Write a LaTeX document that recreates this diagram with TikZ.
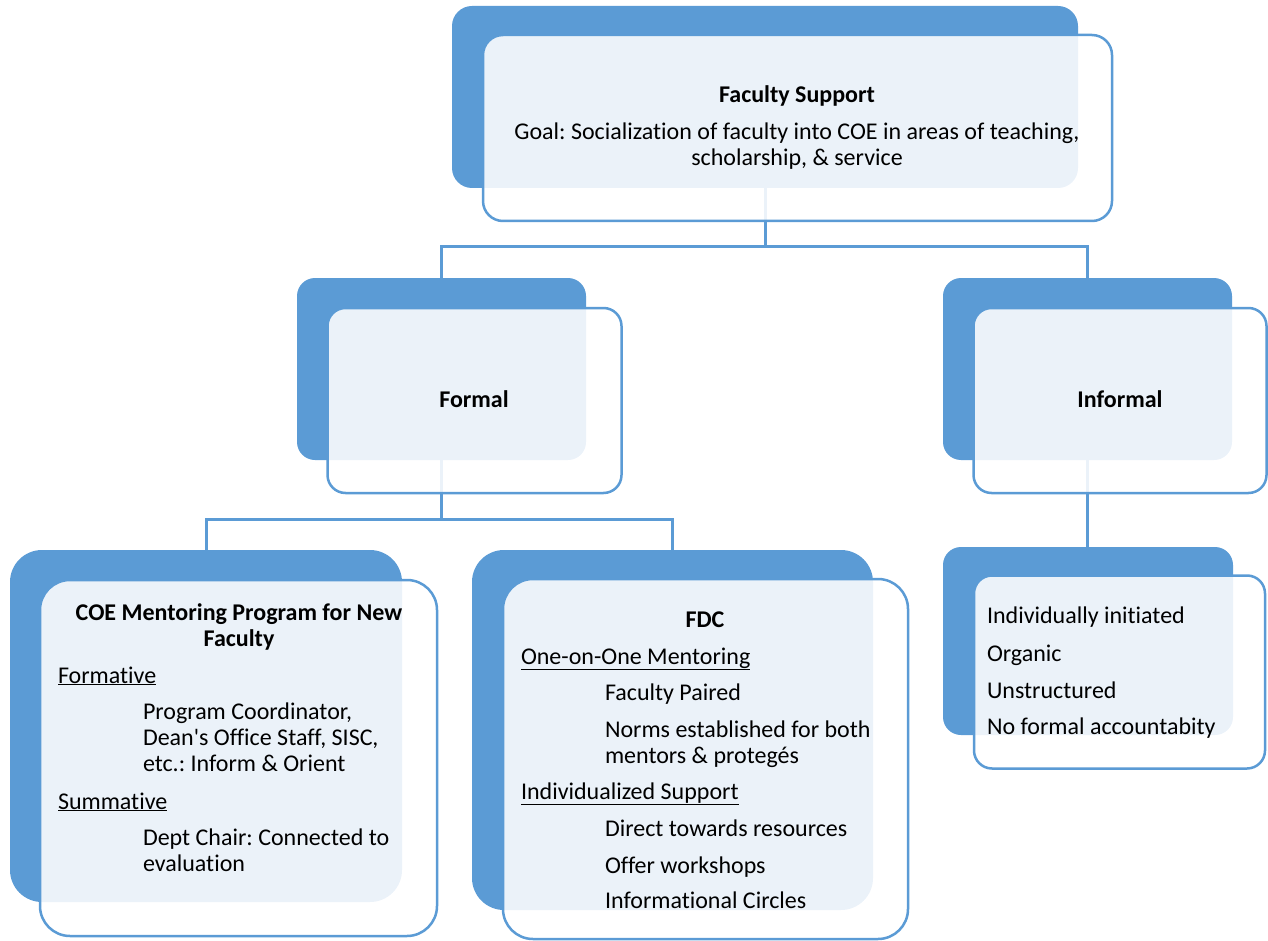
\documentclass[tikz,border=0pt]{standalone}
\usepackage{fontspec}
\setmainfont{Carlito}[Ligatures={TeX,NoCommon}]
\usetikzlibrary{calc}
\definecolor{accent}{HTML}{5B9BD5}
\pgfdeclarelayer{bg}
\pgfsetlayers{bg,main}
\frenchspacing
\begin{document}
\begin{tikzpicture}[x=1pt,y=-1pt,
  backbox/.style={fill=accent, inner sep=0pt, outer sep=0pt},
  frontbox/.style={draw=accent, line width=2.5pt, fill=white, fill opacity=0.88, inner sep=0pt, outer sep=0pt},
  conn/.style={draw=accent, line width=3pt},
  txt/.style={inner sep=0pt, outer sep=0pt, font=\fontsize{24}{26}\selectfont},
  lt/.style={txt, anchor=base west},
  ct/.style={txt, anchor=base},
  hd/.style={txt, anchor=base, font=\fontsize{24}{26}\selectfont\bfseries}
]
\useasboundingbox (0,0) rectangle (1268,941);

% back boxes
\node[backbox, rounded corners=20pt, minimum width=626pt, minimum height=182pt] (topb) at (765,97) {};
\node[backbox, rounded corners=18pt, minimum width=289pt, minimum height=182pt] (formalb) at (441.5,369) {};
\node[backbox, rounded corners=18pt, minimum width=289pt, minimum height=182pt] (informalb) at (1087.5,369) {};
\node[backbox, rounded corners=32pt, minimum width=392pt, minimum height=352pt] (coeb) at (206,726) {};
\node[backbox, rounded corners=32pt, minimum width=401pt, minimum height=360pt] (fdcb) at (672.5,730) {};
\node[backbox, rounded corners=18pt, minimum width=290pt, minimum height=188pt] (indivb) at (1088,641) {};

% front boxes
\node[frontbox, rounded corners=20pt, minimum width=629pt, minimum height=186pt] (topf) at (797.5,128) {};
\node[frontbox, rounded corners=18pt, minimum width=294pt, minimum height=185pt] (formalf) at (474.5,400.5) {};
\node[frontbox, rounded corners=18pt, minimum width=293pt, minimum height=185pt] (informalf) at (1120,400.5) {};
\node[frontbox, rounded corners=30pt, minimum width=397pt, minimum height=356pt] (coef) at (238.5,758) {};
\node[frontbox, rounded corners=30pt, minimum width=405pt, minimum height=360pt] (fdcf) at (705.5,759) {};
\node[frontbox, rounded corners=18pt, minimum width=291pt, minimum height=193pt] (indivf) at (1119.5,672) {};

% connectors
\coordinate (j1) at (765,247);
\coordinate (j2) at (441.5,519);
\begin{pgfonlayer}{bg}
\draw[conn] (topb.south) -- (j1);
\draw[conn] (j1) -| (formalb.north);
\draw[conn] (j1) -| (informalb.north);
\draw[conn] (formalb.south) -- (j2);
\draw[conn] (j2) -| (coeb.north);
\draw[conn] (j2) -| (fdcb.north);
\draw[conn] (informalb.south) -- (informalb.south |- indivb.north);
\end{pgfonlayer}

% texts: top
\node[hd] (t1) at (797,103) {Faculty Support};
\node[ct] (t2) at (797,140) {Goal: Socialization of faculty into COE in areas of teaching,};
\node[ct] (t3) at (797,166) {scholarship, \& service};

\node[hd] (tf) at (474,407) {Formal};
\node[hd] (ti) at (1120,407) {Informal};

% COE
\node[hd] (c1) at (239,620) {COE Mentoring Program for New};
\node[hd] (c2) at (239,646) {Faculty};
\node[lt] (c3) at (58,683) {\underline{Formative}};
\node[lt] (c4) at (143,719) {Program Coordinator,};
\node[lt] (c5) at (143,745) {Dean\textquotesingle s Office Staff, SISC,};
\node[lt] (c6) at (143,771) {etc.: Inform \& Orient};
\node[lt] (c7) at (58,809) {\underline{Summative}};
\node[lt] (c8) at (143,845) {Dept Chair: Connected to};
\node[lt] (c9) at (143,871) {evaluation};

% FDC
\node[hd] (d1) at (705,627) {FDC};
\node[lt] (d2) at (521,664) {\underline{One-on-One Mentoring}};
\node[lt] (d3) at (605,700) {Faculty Paired};
\node[lt] (d4) at (605,737) {Norms established for both};
\node[lt] (d5) at (605,763) {mentors \& protegés};
\node[lt] (d6) at (521,799) {\underline{Individualized Support}};
\node[lt] (d7) at (605,836) {Direct towards resources};
\node[lt] (d8) at (605,873) {Offer workshops};
\node[lt] (d9) at (605,908) {Informational Circles};

% informal child
\node[lt] (i1) at (987,623) {Individually initiated};
\node[lt] (i2) at (987,661) {Organic};
\node[lt] (i3) at (987,698) {Unstructured};
\node[lt] (i4) at (987,734) {No formal accountabity};
\end{tikzpicture}
\end{document}
